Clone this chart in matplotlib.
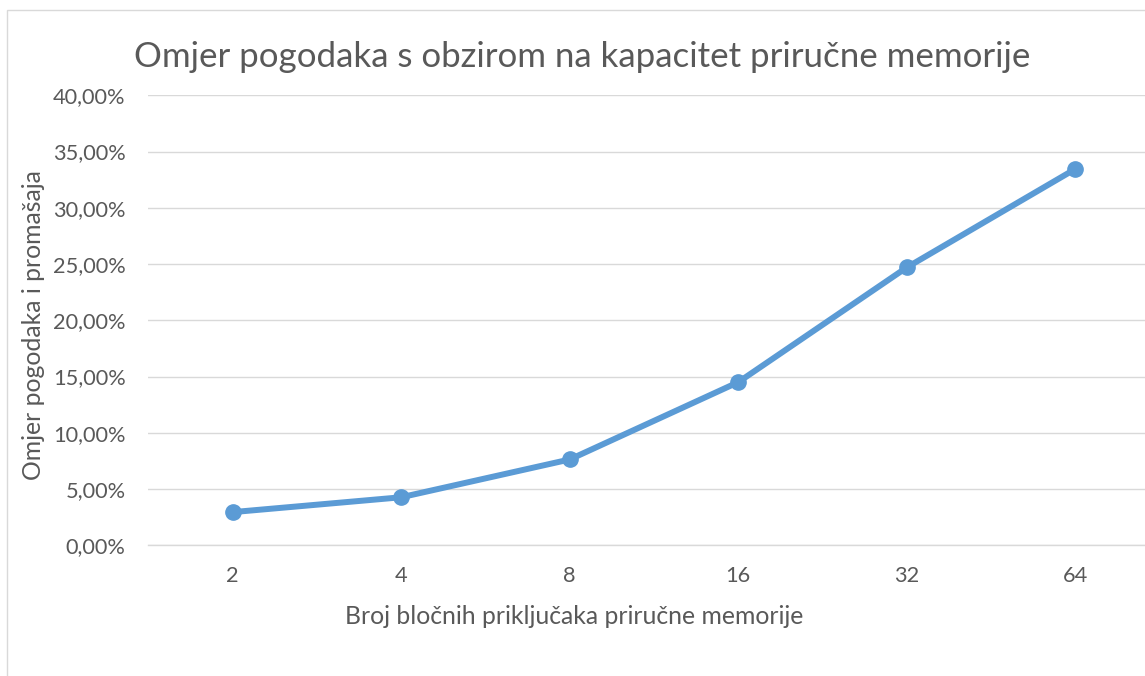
import matplotlib
matplotlib.use('Agg')
import matplotlib.pyplot as plt
from matplotlib.patches import Rectangle
from matplotlib.ticker import FuncFormatter

# data
categories = ['2', '4', '8', '16', '32', '64']
hit_ratio = [2.95, 4.27, 7.63, 14.5, 24.7, 33.45]  # percent
y_ticks = [0, 5, 10, 15, 20, 25, 30, 35, 40]

LINE_COLOR = '#5B9BD5'
TEXT_COLOR = '#595959'
GRID_COLOR = '#D9D9D9'

plt.rcParams['font.family'] = ['Lato', 'DejaVu Sans']

fig = plt.figure(figsize=(11.45, 6.76), dpi=100)
W, H = 1145, 676

# chart area border (cropped on right and bottom in the original)
fig.patches.append(Rectangle((7 / W, -0.1), 1.2, (H - 10) / H + 0.1,
                             transform=fig.transFigure, fill=False,
                             edgecolor=GRID_COLOR, linewidth=1.0))

ax = fig.add_axes([148.4 / W, 130.7 / H, 1011.2 / W, 450 / H])
x = list(range(len(categories)))
ax.plot(x, hit_ratio, color=LINE_COLOR, linewidth=4.3, marker='o',
        markersize=11, solid_capstyle='round', solid_joinstyle='round', zorder=3)

ax.set_xlim(-0.5, len(categories) - 0.5)
ax.set_ylim(0, 40)
ax.set_yticks(y_ticks)
ax.yaxis.set_major_formatter(FuncFormatter(lambda v, p: f'{v:.2f}%'.replace('.', ',')))
ax.set_xticks(x)
ax.set_xticklabels(categories)

ax.grid(axis='y', color=GRID_COLOR, linewidth=1.0)
ax.set_axisbelow(True)
for s in ['top', 'right', 'left']:
    ax.spines[s].set_visible(False)
ax.spines['bottom'].set_color(GRID_COLOR)
ax.spines['bottom'].set_linewidth(1.0)
ax.tick_params(axis='both', length=0, labelsize=15.7, colors=TEXT_COLOR)
ax.tick_params(axis='y', pad=16.5)
ax.tick_params(axis='x', pad=15)

fig.text(582.5 / W, 1 - 67 / H, 'Omjer pogodaka s obzirom na kapacitet priručne memorije',
         ha='center', va='baseline', fontsize=25.1, color=TEXT_COLOR)
fig.text(574 / W, 1 - 624 / H, 'Broj bločnih priključaka priručne memorije',
         ha='center', va='baseline', fontsize=17.8, color=TEXT_COLOR)
fig.text(34 / W, 1 - 325 / H, 'Omjer pogodaka i promašaja', rotation=90,
         ha='center', va='center', fontsize=17.8, color=TEXT_COLOR)

fig.savefig('out.png', dpi=100)
